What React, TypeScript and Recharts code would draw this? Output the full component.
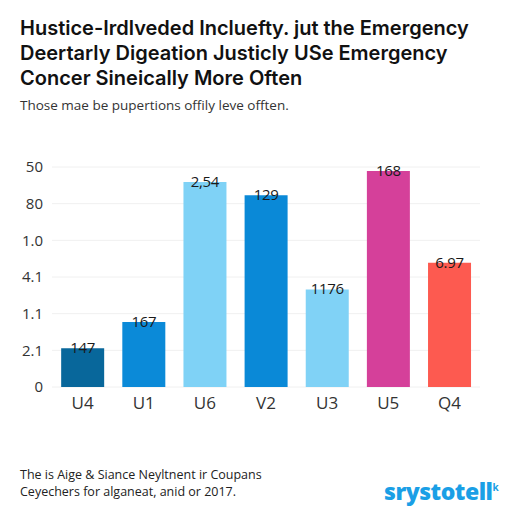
import { BarChart, Bar, XAxis, YAxis, CartesianGrid, Cell, LabelList } from 'recharts';

const categories = ['U4', 'U1', 'U6', 'V2', 'U3', 'U5', 'Q4'];
const values = [1.06, 1.77, 5.59, 5.23, 2.66, 5.89, 3.39];
const valueLabels = ['147', '167', '2,54', '129', '1176', '168', '6.97'];
const yTicks = [0, 1, 2, 3, 4, 5, 6];
const yTickLabels = ['0', '2.1', '1.1', '4.1', '1.0', '80', '50'];

const palette = ['#08679b', '#0b8ad8', '#7fd2f6', '#0a89d7', '#80d2f6', '#d5409a', '#fd5a50'];

const data = categories.map((name, i) => ({ name, value: values[i], label: valueLabels[i] }));

const font = '"Open Sans", "Noto Sans", sans-serif';
const titleFont = 'Inter, "Open Sans", sans-serif';

function TopLabel(props: any) {
  const { x, y, width, value } = props;
  return (
    <text x={x + width / 2} y={y + 5} textAnchor="middle" fontSize={15} fill="#1a1a1a" fontFamily={font} letterSpacing={-0.3}>
      {value}
    </text>
  );
}

export default function App() {
  return (
    <div style={{ position: 'absolute', left: 0, top: 0, width: 512, height: 512, background: '#fff', fontFamily: font }}>
      <div style={{ position: 'absolute', left: 20, top: 16, fontFamily: titleFont, fontSize: 20, fontWeight: 600, lineHeight: '25px', color: '#111', whiteSpace: 'nowrap' }}>
        <div>Hustice-Irdlveded Inclueftу. jut the Emergency</div>
        <div>Deertarly Digeation Justicly USe Emergency</div>
        <div>Concer Sineically More Often</div>
      </div>
      <div style={{ position: 'absolute', left: 20, top: 96, fontSize: 13.5, color: '#333', whiteSpace: 'nowrap' }}>
        Those mae be pupertions offily leve offten.
      </div>
      <div style={{ position: 'absolute', left: 0, top: 150 }}>
        <BarChart width={512} height={270} data={data} margin={{ top: 17, right: 32, bottom: 0, left: 0 }} barCategoryGap="15%">
          <CartesianGrid vertical={false} stroke="#f0f0f0" />
          <XAxis
            dataKey="name"
            axisLine={false}
            tickLine={false}
            tickSize={0}
            tickMargin={10}
            height={33}
            tick={{ fontSize: 17, fill: '#333', fontFamily: font }}
          />
          <YAxis
            type="number"
            domain={[0, 6]}
            ticks={yTicks}
            width={52}
            axisLine={false}
            tickLine={false}
            tickSize={0}
            tickMargin={9}
            tickFormatter={(v: number) => yTickLabels[v]}
            tick={{ fontSize: 15, fill: '#333', fontFamily: font }}
          />
          <Bar dataKey="value" isAnimationActive={false}>
            {data.map((_, i) => (
              <Cell key={i} fill={palette[i]} />
            ))}
            <LabelList dataKey="label" content={TopLabel} />
          </Bar>
        </BarChart>
      </div>
      <div style={{ position: 'absolute', left: 20, top: 466, fontSize: 12.5, lineHeight: '17px', color: '#222', whiteSpace: 'nowrap' }}>
        <div>The is Aige &amp; Siance Neyltnent ir Coupans</div>
        <div>Ceyechers for alganeat, anid or 2017.</div>
      </div>
      <div style={{ position: 'absolute', left: 384, top: 475, fontSize: 23, fontWeight: 800, color: '#1a9fe6', whiteSpace: 'nowrap', letterSpacing: -0.5 }}>
        srystotell<sup style={{ fontSize: 10, fontWeight: 700 }}>k</sup>
      </div>
    </div>
  );
}
